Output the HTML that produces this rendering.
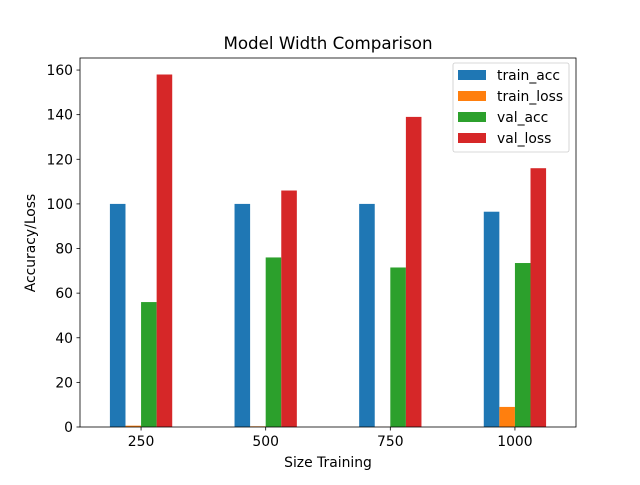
<!DOCTYPE html>
<html><head><meta charset="utf-8"><style>
body{margin:0;background:#fff;font-family:"Liberation Sans","DejaVu Sans",sans-serif}
svg text{font-family:"DejaVu Sans","Liberation Sans",sans-serif}
</style></head><body>
<svg id="c" width="640" height="480"></svg>
<script>
const categories=["250","500","750","1000"];
const trainAcc=[100,100,100,96.5];
const trainLoss=[0.6,0.3,0.05,9];
const valAcc=[56,76,71.5,73.5];
const valLoss=[158,106,139,116];
const yTicks=[0,20,40,60,80,100,120,140,160];
const seriesNames=["train_acc","train_loss","val_acc","val_loss"];
const colors=["#1f77b4","#ff7f0e","#2ca02c","#d62728"];
const series=[trainAcc,trainLoss,valAcc,valLoss];
const L=80,R=576,T=58,B=427,ymax=165.4,xmin=-0.49,xmax=3.49,bw=0.125;
const sx=v=>L+(v-xmin)/(xmax-xmin)*(R-L);
const sy=v=>B-v/ymax*(B-T);
const svg=document.getElementById('c');const NS="http://www.w3.org/2000/svg";
function mk(t,a,p){const e=document.createElementNS(NS,t);for(const k in a)e.setAttribute(k,a[k]);(p||svg).appendChild(e);return e;}
series.forEach((s,si)=>{s.forEach((v,i)=>{const x0=sx(i+(si-2)*bw),x1=sx(i+(si-1)*bw);
const r=mk('rect',{x:x0,y:sy(v),width:x1-x0,height:B-sy(v),fill:colors[si]});

});});
const ax=mk('rect',{x:L,y:T,width:R-L,height:B-T,fill:'none',stroke:'#000','stroke-width':0.8});

yTicks.forEach(v=>{const y=sy(v);mk('line',{x1:L-3.5,x2:L,y1:y,y2:y,stroke:'#000','stroke-width':0.8});
const t=mk('text',{x:L-7,y:y+5,'text-anchor':'end','font-size':13.9});t.textContent=v;
});
categories.forEach((c,i)=>{const x=sx(i);mk('line',{x1:x,x2:x,y1:B,y2:B+3.5,stroke:'#000','stroke-width':0.8});
const t=mk('text',{x:x,y:B+19,'text-anchor':'middle','font-size':13.9});t.textContent=c;
});
let t=mk('text',{x:328,y:49,'text-anchor':'middle','font-size':16.7});t.textContent="Model Width Comparison";

t=mk('text',{x:328,y:467,'text-anchor':'middle','font-size':13.9});t.textContent="Size Training";

t=mk('text',{x:0,y:0,'text-anchor':'middle','font-size':13.9,transform:'translate(35,243) rotate(-90)'});t.textContent="Accuracy/Loss";

const lg=mk('g',{});
mk('rect',{x:453,y:63,width:116,height:89,rx:2,fill:'#fff',stroke:'#ccc','stroke-width':0.8},lg);
seriesNames.forEach((n,i)=>{const y=70+i*21;
const g=mk('g',{},lg);
mk('rect',{x:458,y:y,width:28,height:10,fill:colors[i]},g);
const tt=mk('text',{x:497,y:y+10,'font-size':13.9},g);tt.textContent=n;});
</script>
</body></html>
